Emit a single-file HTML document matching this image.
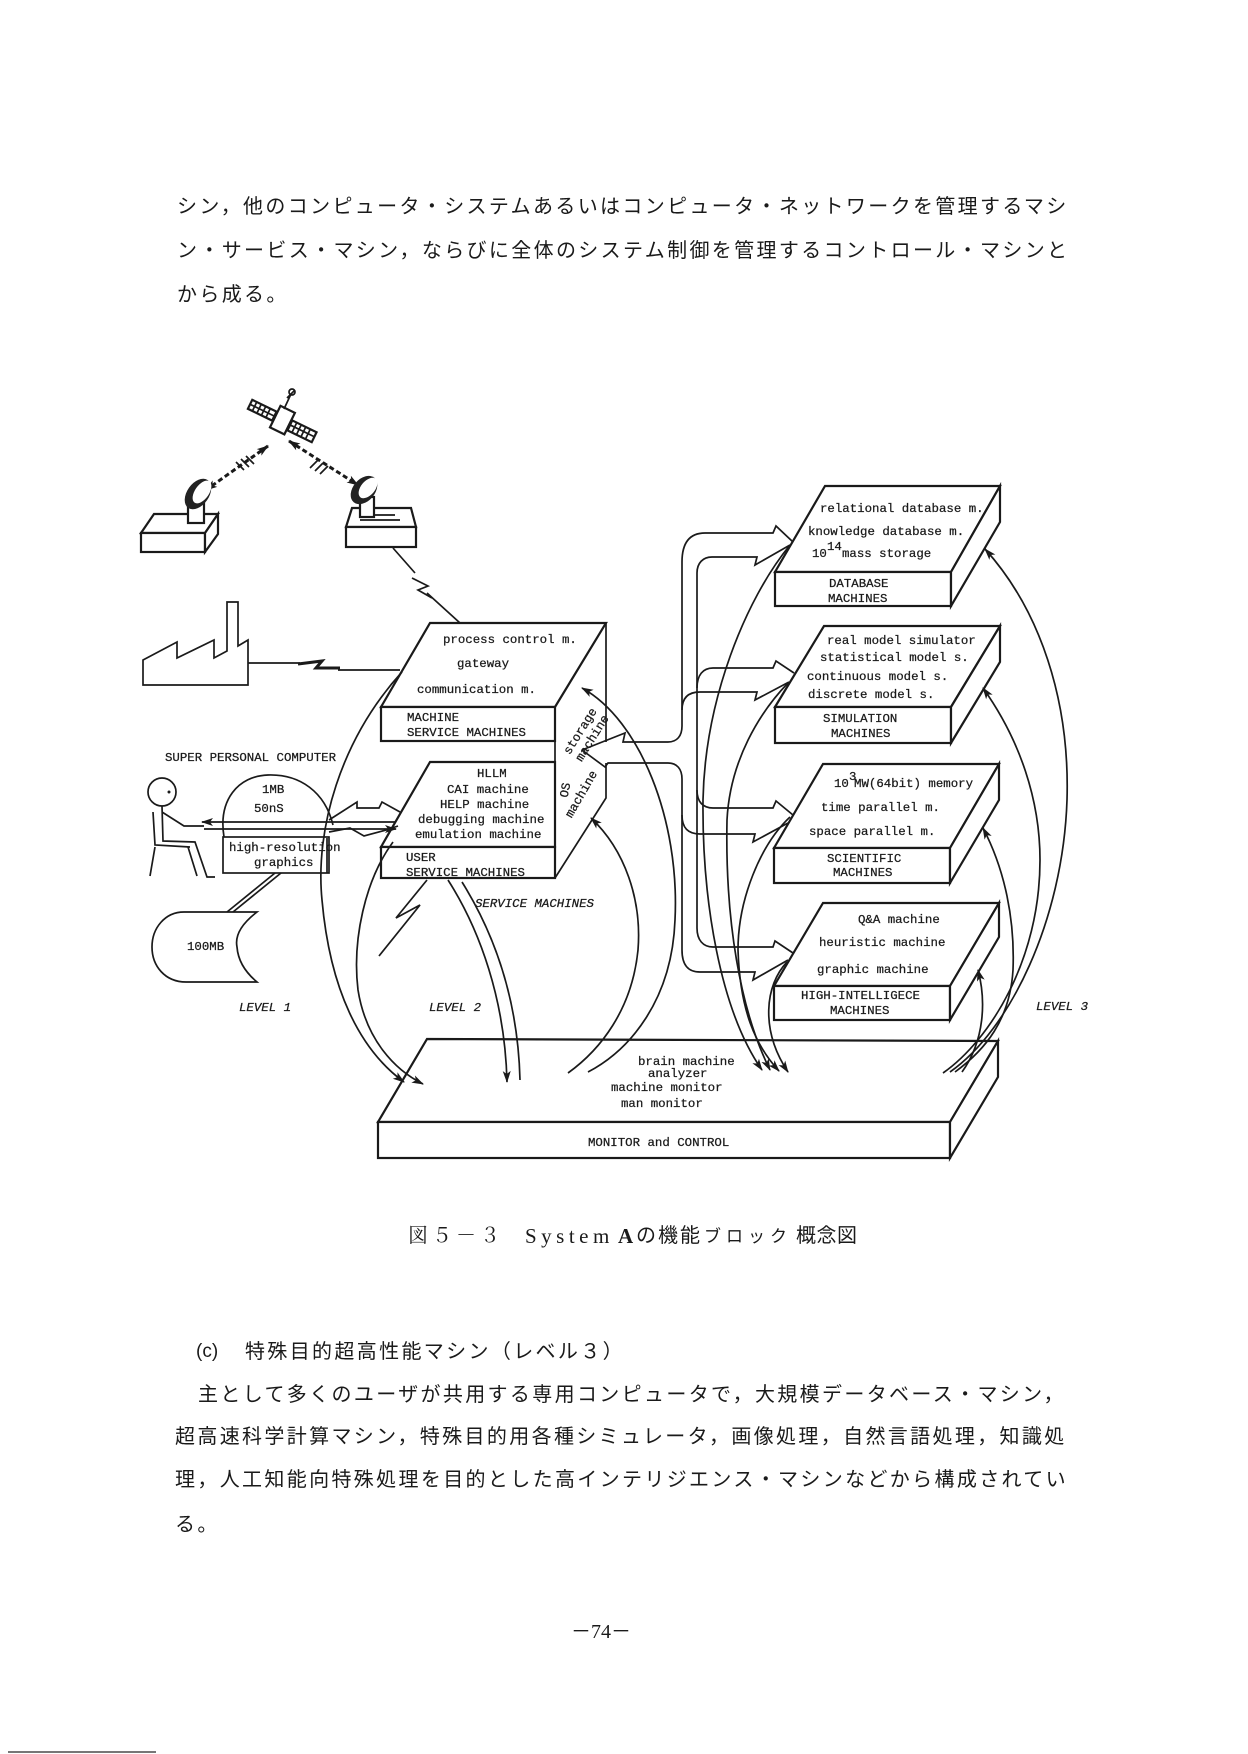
<!DOCTYPE html>
<html>
<head>
<meta charset="utf-8">
<style>
html,body{margin:0;padding:0;background:#fff;}
svg{display:block;}
.jp{font-family:"Liberation Sans","Noto Sans CJK JP",sans-serif;font-size:20px;fill:#1a1a1a;letter-spacing:2.35px;}
.m{font-family:"Liberation Mono",monospace;font-size:12.4px;fill:#1a1a1a;stroke:#1a1a1a;stroke-width:0.25px;}
.mi{font-family:"Liberation Mono",monospace;font-size:12.4px;fill:#1a1a1a;font-style:italic;stroke:#1a1a1a;stroke-width:0.25px;}
.s{stroke:#1a1a1a;stroke-width:1.7;fill:none;}
.b{stroke:#1a1a1a;stroke-width:2.2;fill:#fff;}
</style>
</head>
<body>
<svg width="1248" height="1754" viewBox="0 0 1248 1754" xmlns="http://www.w3.org/2000/svg">
<defs>
<marker id="ah" viewBox="0 0 12 10" refX="11" refY="5" markerWidth="13" markerHeight="10" markerUnits="userSpaceOnUse" orient="auto-start-reverse">
<path d="M0,1 L12,5 L0,9 L3,5 z" fill="#1a1a1a"/>
</marker>
</defs>
<rect width="1248" height="1754" fill="#fff"/>

<!-- top paragraph -->
<text class="jp" x="177" y="213">シン，他のコンピュータ・システムあるいはコンピュータ・ネットワークを管理するマシ</text>
<text class="jp" x="177" y="257">ン・サービス・マシン，ならびに全体のシステム制御を管理するコントロール・マシンと</text>
<text class="jp" x="177" y="301">から成る。</text>

<!-- ===== satellite ===== -->
<g transform="translate(282,421) rotate(26)">
<rect x="-8" y="-13" width="16" height="24" class="b"/>
<rect x="-36" y="-6" width="27" height="10" class="b" stroke-width="1.5"/>
<path class="s" stroke-width="1" d="M-31,-6v10M-26,-6v10M-21,-6v10M-16,-6v10M-36,-1h27"/>
<rect x="9" y="-5" width="27" height="11" class="b" stroke-width="1.5"/>
<path class="s" stroke-width="1" d="M14,-5v11M19,-5v11M24,-5v11M29,-5v11M9,0h27"/>
</g>
<path class="s" d="M284,409 L291,394 M287,398 q6,-6 8,-8"/>
<circle cx="292" cy="392" r="3" class="s"/>
<!-- dashed links -->
<path d="M268,446 L206,490" stroke="#1a1a1a" stroke-width="3" stroke-dasharray="5 3" fill="none" marker-start="url(#ah)" marker-end="url(#ah)"/>
<path d="M289,441 L358,485" stroke="#1a1a1a" stroke-width="3" stroke-dasharray="5 3" fill="none" marker-start="url(#ah)" marker-end="url(#ah)"/>
<path class="s" stroke-width="2.5" d="M236,462 l8,8 M241,459 l8,8 M246,456 l8,8 M318,460 l-8,8 M323,463 l-8,8 M328,466 l-8,8"/>
<!-- left ground station -->
<path class="b" d="M141,533 L154,514 L218,514 L205,533 Z"/>
<rect x="141" y="533" width="64" height="19" class="b"/>
<path class="b" d="M205,533 L218,514 L218,534 L205,552 Z"/>
<rect x="188" y="503" width="16" height="20" class="b" stroke-width="1.5"/>
<ellipse cx="198" cy="494" rx="11" ry="17" transform="rotate(35 198 494)" fill="#222"/>
<ellipse cx="202" cy="492" rx="7" ry="13" transform="rotate(35 202 492)" fill="#fff"/>
<!-- right ground station -->
<path class="b" d="M346,527 L352,508 L411,508 L416,527 Z"/>
<rect x="346" y="527" width="70" height="20" class="b"/>
<path class="s" stroke-width="1" d="M360,520 h40 M365,515 h30"/>
<rect x="360" y="497" width="14" height="20" class="b" stroke-width="1.5"/>
<ellipse cx="364" cy="490" rx="11" ry="16" transform="rotate(40 364 490)" fill="#222"/>
<ellipse cx="368" cy="488" rx="7" ry="12" transform="rotate(40 368 488)" fill="#fff"/>
<!-- line to central box -->
<path class="s" d="M393,548 L415,573 M427,593 L460,623"/>
<path class="s" stroke-width="2.5" d="M412,578 L428,586 L418,590 L432,598"/>
<!-- factory -->
<path class="s" stroke-width="2" d="M143,685 L143,660 L177,642 L177,658 L214,640 L214,658 L227,651 L227,602 L238,602 L238,646 L248,640 L248,685 Z"/>
<path class="s" d="M248,663 L300,663 M338,670 L400,670"/>
<path d="M298,664 L322,661 L316,668 L340,668" stroke="#1a1a1a" stroke-width="3" fill="none"/>

<!-- ===== central block ===== -->
<path class="b" d="M381,707 L430,623 L606,623 L555,707 Z"/>
<rect x="381" y="707" width="174" height="34" class="b"/>
<path class="b" d="M381,847 L430,762 L555,762 L555,847 Z"/>
<rect x="381" y="847" width="174" height="31" class="b"/>
<path class="s" stroke-width="2" d="M555,707 L555,878 M606,623 L606,742 M606,763 L606,798 L555,878"/>
<text class="m" x="443" y="643">process control m.</text>
<text class="m" x="457" y="667">gateway</text>
<text class="m" x="417" y="693">communication m.</text>
<text class="m" x="407" y="721">MACHINE</text>
<text class="m" x="407" y="736">SERVICE MACHINES</text>
<text class="m" x="477" y="777">HLLM</text>
<text class="m" x="447" y="793">CAI machine</text>
<text class="m" x="440" y="808">HELP machine</text>
<text class="m" x="418" y="823">debugging machine</text>
<text class="m" x="415" y="838">emulation machine</text>
<text class="m" x="406" y="861">USER</text>
<text class="m" x="406" y="876">SERVICE MACHINES</text>
<text class="m" font-size="11" transform="translate(580,731) rotate(-58)" text-anchor="middle" y="4">storage</text>
<text class="m" font-size="11" transform="translate(592,738) rotate(-58)" text-anchor="middle" y="4">machine</text>
<text class="m" font-size="11" transform="translate(565,790) rotate(-80)" text-anchor="middle" y="4">OS</text>
<text class="m" font-size="11" transform="translate(581,794) rotate(-60)" text-anchor="middle" y="4">machine</text>
<text class="mi" x="475" y="907">SERVICE MACHINES</text>

<!-- fat pipe from central block -->
<path class="s" stroke-width="1.8" d="M582,750 L625,733 L623,742 L668,742 C677,742 682,736 682,726 L682,562 C682,542 690,533 705,533 L773,533 L776,526 L793,542"/>
<path class="s" stroke-width="1.8" d="M582,750 L605,767 L608,763 L668,763 C677,763 682,769 682,779 L682,950 C682,965 688,972 700,972 L755,972 L753,980 L788,960"/>
<path class="s" stroke-width="1.8" d="M790,545 L755,565 L757,557 L712,557 C703,557 697,563 697,573 L697,928 C697,940 703,947 713,947 L773,947 L775,941 L793,953"/>
<path class="s" stroke-width="1.8" d="M697,688 C697,675 703,668 713,668 L773,668 L776,661 L794,673"/>
<path class="s" stroke-width="1.8" d="M682,710 C682,698 688,692 700,692 L757,692 L755,700 L789,682"/>
<path class="s" stroke-width="1.8" d="M697,790 C697,802 703,808 713,808 L773,808 L776,801 L793,815"/>
<path class="s" stroke-width="1.8" d="M682,815 C682,828 688,834 700,834 L755,834 L753,842 L788,823"/>

<!-- ===== right boxes ===== -->
<path class="b" d="M775,572 L825,486 L1000,486 L951,572 Z"/>
<rect x="775" y="572" width="176" height="34" class="b"/>
<path class="b" d="M951,572 L1000,486 L1000,522 L951,606 Z"/>
<text class="m" x="820" y="512">relational database m.</text>
<text class="m" x="808" y="535">knowledge database m.</text>
<text class="m" x="812" y="557">10</text><text class="m" font-size="8" x="827" y="550">14</text><text class="m" x="842" y="557">mass storage</text>
<text class="m" x="829" y="587">DATABASE</text>
<text class="m" x="828" y="602">MACHINES</text>

<path class="b" d="M775,707 L824,626 L1000,626 L951,707 Z"/>
<rect x="775" y="707" width="176" height="36" class="b"/>
<path class="b" d="M951,707 L1000,626 L1000,662 L951,743 Z"/>
<text class="m" x="827" y="644">real model simulator</text>
<text class="m" x="820" y="661">statistical model s.</text>
<text class="m" x="807" y="680">continuous model s.</text>
<text class="m" x="808" y="698">discrete model s.</text>
<text class="m" x="823" y="722">SIMULATION</text>
<text class="m" x="831" y="737">MACHINES</text>

<path class="b" d="M774,848 L823,764 L999,764 L950,848 Z"/>
<rect x="774" y="848" width="176" height="35" class="b"/>
<path class="b" d="M950,848 L999,764 L999,800 L950,883 Z"/>
<text class="m" x="834" y="787">10</text><text class="m" font-size="8" x="849" y="780">3</text><text class="m" x="854" y="787" textLength="119">MW(64bit) memory</text>
<text class="m" x="821" y="811">time parallel m.</text>
<text class="m" x="809" y="835">space parallel m.</text>
<text class="m" x="827" y="862">SCIENTIFIC</text>
<text class="m" x="833" y="876">MACHINES</text>

<path class="b" d="M774,986 L823,903 L999,903 L950,986 Z"/>
<rect x="774" y="986" width="176" height="34" class="b"/>
<path class="b" d="M950,986 L999,903 L999,937 L950,1020 Z"/>
<text class="m" x="858" y="923">Q&amp;A machine</text>
<text class="m" x="819" y="946">heuristic machine</text>
<text class="m" x="817" y="973">graphic machine</text>
<text class="m" x="801" y="999">HIGH-INTELLIGECE</text>
<text class="m" x="830" y="1014">MACHINES</text>

<!-- ===== monitor box ===== -->
<path class="b" d="M378,1122 L427,1039 L998,1041 L950,1122 Z"/>
<rect x="378" y="1122" width="572" height="36" class="b"/>
<path class="b" d="M950,1122 L998,1041 L998,1077 L950,1158 Z"/>
<text class="m" x="638" y="1065">brain machine</text>
<text class="m" x="648" y="1077">analyzer</text>
<text class="m" x="611" y="1091">machine monitor</text>
<text class="m" x="621" y="1107">man monitor</text>
<text class="m" x="588" y="1146">MONITOR and CONTROL</text>

<!-- arcs: right boxes -> monitor (left side) -->
<path class="s" d="M790,545 C745,600 705,700 703,800 C702,900 720,1010 762,1070" marker-end="url(#ah)"/>
<path class="s" d="M788,683 C760,712 730,760 727,820 C725,920 740,1010 770,1070" marker-end="url(#ah)"/>
<path class="s" d="M790,817 C760,845 738,900 738,950 C740,1010 755,1045 779,1071" marker-end="url(#ah)"/>
<path class="s" d="M787,962 C765,985 760,1030 788,1072" marker-end="url(#ah)"/>
<!-- arcs: monitor -> right boxes (right side) -->
<path class="s" d="M985,549 C1040,610 1070,700 1067,800 C1063,920 1010,1030 950,1072" marker-start="url(#ah)"/>
<path class="s" d="M983,688 C1020,740 1040,800 1040,860 C1040,960 990,1040 943,1073" marker-start="url(#ah)"/>
<path class="s" d="M983,828 C1005,870 1015,920 1013,970 C1010,1020 985,1050 955,1072" marker-start="url(#ah)"/>
<path class="s" d="M978,970 C986,1000 985,1040 962,1072" marker-start="url(#ah)"/>
<!-- arcs: monitor -> central block right face -->
<path class="s" d="M582,688 C640,720 680,820 675,920 C672,1000 630,1050 588,1072" marker-start="url(#ah)"/>
<path class="s" d="M591,818 C625,850 642,900 638,950 C632,1010 600,1050 568,1073" marker-start="url(#ah)"/>
<!-- service machine arrows -->
<path class="s" d="M448,880 C480,930 505,1000 507,1082" marker-end="url(#ah)"/>
<path class="s" d="M462,882 C495,935 518,1000 520,1080"/>
<!-- left arcs to monitor -->
<path class="s" d="M402,672 C340,740 315,830 322,900 C330,990 360,1050 404,1082" marker-end="url(#ah)"/>
<path class="s" d="M393,842 C365,880 352,940 358,990 C366,1040 395,1070 423,1084" marker-end="url(#ah)"/>
<!-- lightning under USER -->
<path class="s" d="M427,880 L396,918 L420,905 L379,956"/>

<!-- ===== level 1 ===== -->
<text class="m" x="165" y="761">SUPER PERSONAL COMPUTER</text>
<!-- person -->
<circle cx="162" cy="792" r="14" class="s"/>
<circle cx="169" cy="792" r="1.5" fill="#1a1a1a"/>
<path class="s" d="M162,806 L163,841 L195,842 L207,877 L215,877 M162,812 L184,826 L204,826 M153,812 L155,845 L190,847 M155,847 L150,876 M188,847 L197,876"/>
<!-- 1MB dome + hi-res box -->
<path class="s" d="M224,837 C218,800 238,776 268,775 C300,774 325,792 333,825"/>
<text class="m" x="262" y="793">1MB</text>
<text class="m" x="254" y="812">50nS</text>
<rect x="223" y="837" width="106" height="36" class="s"/>
<path class="s" d="M327,838 L327,873"/>
<text class="m" x="229" y="851">high-resolution</text>
<text class="m" x="254" y="866">graphics</text>
<!-- person <-> box -->
<path class="s" d="M202,822 L396,822" marker-start="url(#ah)"/>
<path class="s" d="M204,829 L396,829" marker-end="url(#ah)"/>
<path class="s" d="M329,820 L357,802 L357,808 L379,808 L382,802 L400,812"/>
<path class="s" d="M329,832 L350,828 L364,836 L386,830 L398,826"/>
<!-- link to 100MB -->
<path class="s" d="M275,873 L227,912 M281,873 L233,912"/>
<!-- 100MB storage -->
<path class="s" stroke-width="2" d="M184,912 L257,912 C240,925 235,937 237,947 C238,960 245,972 257,982 L186,982 C165,982 152,966 152,947 C152,928 165,912 184,912 Z"/>
<text class="m" x="187" y="950">100MB</text>

<text class="mi" x="239" y="1011">LEVEL 1</text>
<text class="mi" x="429" y="1011">LEVEL 2</text>
<text class="mi" x="1036" y="1010">LEVEL 3</text>

<!-- caption -->
<text font-family="'Liberation Serif','Noto Serif CJK SC','Noto Sans CJK JP',serif" font-size="20" fill="#1a1a1a" x="408" y="1242" letter-spacing="4">図５－３</text>
<text font-family="'Liberation Serif',serif" font-size="21" fill="#1a1a1a" x="525" y="1243" letter-spacing="4.5">System</text>
<text font-family="'Liberation Serif',serif" font-size="21" font-weight="bold" fill="#1a1a1a" x="618" y="1243">A</text>
<text font-family="'Liberation Sans','Noto Sans CJK JP',sans-serif" font-size="20" fill="#1a1a1a" x="636" y="1242" letter-spacing="2">の機能</text>
<text font-family="'Liberation Sans','Noto Sans CJK JP',sans-serif" font-size="17" fill="#1a1a1a" x="704" y="1242" letter-spacing="5">ブロック</text>
<text font-family="'Liberation Sans','Noto Sans CJK JP',sans-serif" font-size="20" fill="#1a1a1a" x="796" y="1242" letter-spacing="0.5">概念図</text>

<!-- lower paragraph -->
<text font-family="'Liberation Sans',sans-serif" font-size="19" fill="#1a1a1a" x="196" y="1357">(c)</text>
<text class="jp" x="245" y="1358" letter-spacing="2">特殊目的超高性能マシン（レベル３）</text>
<text class="jp" x="198" y="1401">主として多くのユーザが共用する専用コンピュータで，大規模データベース・マシン，</text>
<text class="jp" x="175" y="1443">超高速科学計算マシン，特殊目的用各種シミュレータ，画像処理，自然言語処理，知識処</text>
<text class="jp" x="175" y="1486">理，人工知能向特殊処理を目的とした高インテリジエンス・マシンなどから構成されてい</text>
<text class="jp" x="175" y="1531">る。</text>

<!-- page number -->
<text font-family="'Liberation Serif','Noto Sans CJK JP',serif" font-size="20" fill="#1a1a1a" x="601" y="1638" text-anchor="middle">－74－</text>
<line x1="8" y1="1752" x2="156" y2="1752" stroke="#777" stroke-width="2"/>
</svg>
</body>
</html>
